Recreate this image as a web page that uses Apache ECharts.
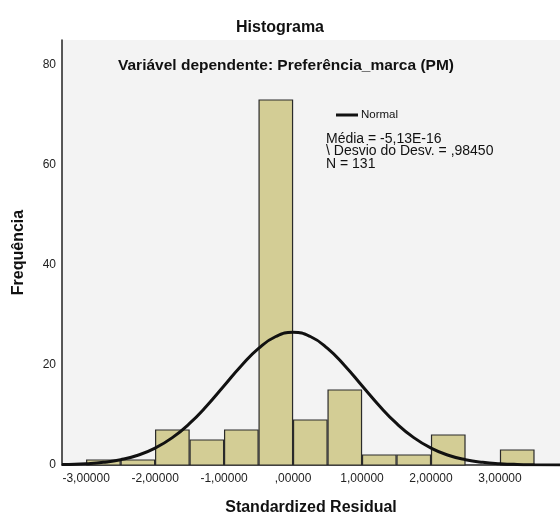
<!DOCTYPE html>
<html>
<head>
<meta charset="utf-8">
<title>Histograma</title>
<script src="https://cdn.jsdelivr.net/npm/echarts@6/dist/echarts.min.js"></script>
<style>
    html, body {
        margin: 0;
        padding: 0;
        background: #ffffff;
    }
    #main {
        width: 560px;
        height: 516px;
    }
</style>
</head>
<body>
<div id="main"></div>
<script>
// bins (start of each 0.5 wide bin) and their counts
const binStart = [-3.0, -2.5, -2.0, -1.5, -1.0, -0.5, 0.0, 0.5, 1.0, 1.5, 2.0, 2.5, 3.0];
const binWidth = 0.5;
const counts = [1, 1, 7, 5, 7, 73, 9, 15, 2, 2, 6, 0, 3];

// normal curve
const curveX = [-3.35, -3.25, -3.0, -2.75, -2.5, -2.25, -2.0, -1.75, -1.5, -1.25, -1.0, -0.75, -0.5, -0.25, 0.0,
    0.25, 0.5, 0.75, 1.0, 1.25, 1.5, 1.75, 2.0, 2.25, 2.5, 2.75, 3.0, 3.25, 3.5, 3.87];
const curveY = [0.08, 0.11, 0.26, 0.54, 1.06, 1.95, 3.38, 5.47, 8.31, 11.85, 15.84, 19.86, 23.33, 25.7, 26.54,
    25.7, 23.33, 19.86, 15.84, 11.85, 8.31, 5.47, 3.38, 1.95, 1.06, 0.54, 0.26, 0.11, 0.05, 0.01];

const statsLines = ['Média = -5,13E-16', '\\ Desvio do Desv. = ,98450', 'N = 131'];

const font = '"Liberation Sans", Arial, sans-serif';

const chart = echarts.init(document.getElementById('main'));

chart.setOption({
    animation: false,
    textStyle: {fontFamily: font},
    title: [
        {
            text: 'Histograma',
            left: 'center',
            top: 15,
            textStyle: {fontSize: 16, fontWeight: 'bold', color: '#111', fontFamily: font}
        },
        {
            text: 'Variável dependente: Preferência_marca (PM)',
            left: 113,
            top: 53,
            textStyle: {fontSize: 15.5, fontWeight: 'bold', color: '#111', fontFamily: font}
        }
    ],
    legend: {
        left: 331,
        top: 104,
        itemWidth: 22,
        itemHeight: 3,
        itemGap: 4,
        icon: 'rect',
        data: ['Normal'],
        textStyle: {fontSize: 11.5, color: '#111', fontFamily: font, padding: [0, 0, 0, -2]}
    },
    graphic: [{
        type: 'text',
        left: 326,
        top: 132,
        style: {
            text: statsLines.join('\n'),
            font: '14px ' + font,
            lineHeight: 12.5,
            fill: '#111'
        }
    }],
    grid: {
        left: 62,
        right: 0,
        top: 40,
        bottom: 51,
        outerBoundsMode: 'none',
        containLabel: false,
        show: true,
        backgroundColor: '#f3f3f3',
        borderWidth: 0
    },
    xAxis: {
        type: 'value',
        min: -3.35,
        max: 3.87,
        splitNumber: 7,
        minInterval: 1,
        maxInterval: 1,
        name: 'Standardized Residual',
        nameLocation: 'middle',
        nameGap: 35,
        nameTextStyle: {fontSize: 16, fontWeight: 'bold', color: '#111'},
        axisLine: {lineStyle: {color: '#222', width: 1.5}},
        axisTick: {show: false},
        splitLine: {show: false},
        axisLabel: {
            margin: 8,
            fontSize: 12,
            color: '#222',
            showMinLabel: false,
            showMaxLabel: false,
            formatter: function (v) {
                if (Math.abs(v - Math.round(v)) > 1e-6) return '';
                if (v === 0) return ',00000';
                return v.toFixed(5).replace('.', ',');
            }
        }
    },
    yAxis: {
        type: 'value',
        min: 0,
        max: 85,
        interval: 20,
        name: 'Frequência',
        nameLocation: 'middle',
        nameGap: 35,
        nameTextStyle: {fontSize: 16, fontWeight: 'bold', color: '#111'},
        axisLine: {show: true, onZero: false, lineStyle: {color: '#222', width: 1.5}},
        axisTick: {show: false},
        splitLine: {show: false},
        axisLabel: {
            margin: 6,
            fontSize: 12,
            color: '#222',
            showMaxLabel: false
        }
    },
    series: [
        {
            name: 'Histograma',
            type: 'custom',
            data: binStart.map(function (s, i) {
                return [s, s + binWidth, counts[i]];
            }),
            encode: {x: [0, 1], y: 2},
            renderItem: function (params, api) {
                if (api.value(2) <= 0) return;
                const p0 = api.coord([api.value(0), api.value(2)]);
                const p1 = api.coord([api.value(1), 0]);
                return {
                    type: 'rect',
                    shape: {x: p0[0] + 0.5, y: p0[1], width: p1[0] - p0[0] - 1, height: p1[1] - p0[1]},
                    style: {fill: '#d3cd95', stroke: '#2a2a2a', lineWidth: 1.2}
                };
            },
            z: 2
        },
        {
            name: 'Normal',
            type: 'line',
            smooth: true,
            symbol: 'none',
            data: curveX.map(function (x, i) {
                return [x, curveY[i]];
            }),
            lineStyle: {color: '#111', width: 3},
            itemStyle: {color: '#111'},
            z: 3
        }
    ]
});
</script>
</body>
</html>
